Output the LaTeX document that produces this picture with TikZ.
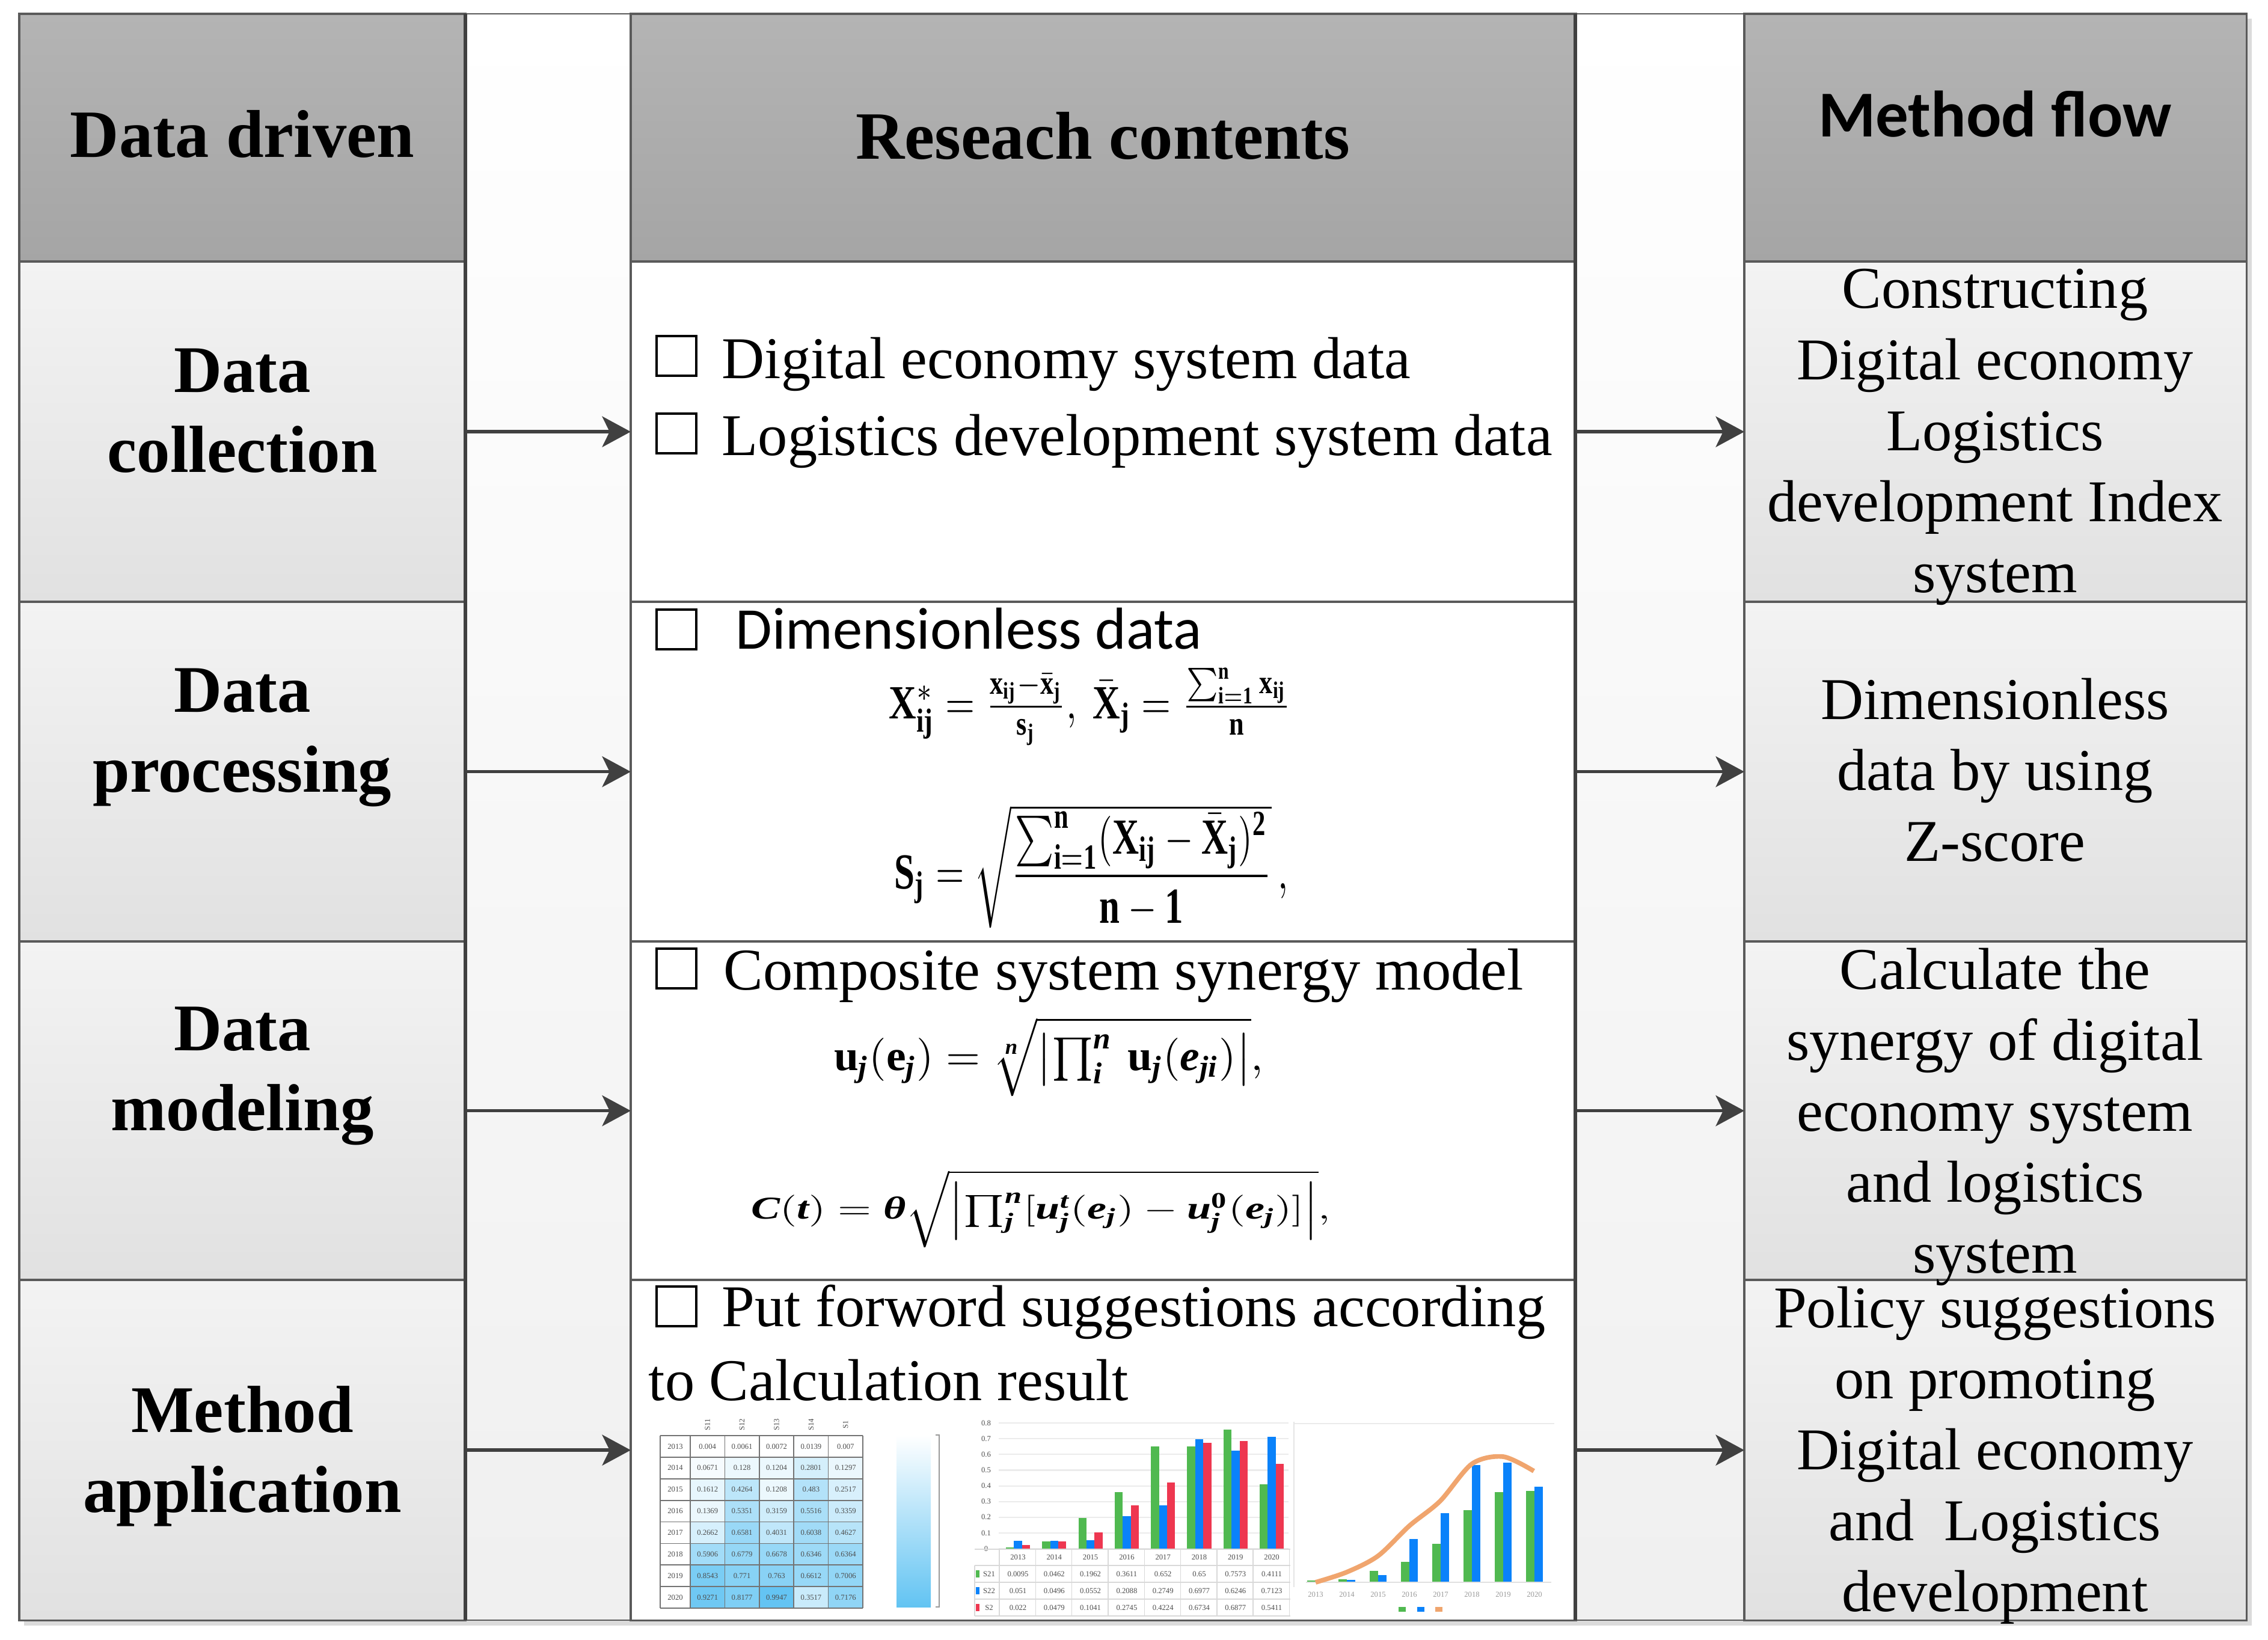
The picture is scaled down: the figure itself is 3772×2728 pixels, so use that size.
\documentclass[tikz,border=0pt]{standalone}
\usepackage{amsmath}
\usepackage{fontspec}
\setmainfont{Liberation Serif}
\newfontfamily\calib{Carlito}
\usepackage{graphicx}
\usetikzlibrary{arrows.meta}
\newcommand\bit[1]{\text{\bfseries\itshape #1}}
\definecolor{hdrtop}{HTML}{B4B4B4}
\definecolor{hdrbot}{HTML}{A5A5A5}
\definecolor{celltop}{HTML}{F3F3F3}
\definecolor{cellbot}{HTML}{E1E1E1}
\definecolor{edge}{HTML}{5A5A5A}
\definecolor{hb}{RGB}{70,185,240}
\definecolor{bgreen}{RGB}{80,185,80}
\definecolor{bblue}{RGB}{10,130,250}
\definecolor{bred}{RGB}{238,55,80}
\definecolor{borange}{RGB}{240,165,110}
\begin{document}
\begin{tikzpicture}[x=0.01cm,y=-0.01cm,
 hdr/.style={draw=edge,line width=0.9pt,top color=hdrtop,bottom color=hdrbot,inner sep=0pt,outer sep=0pt,anchor=north west},
 cellg/.style={draw=edge,line width=0.9pt,top color=celltop,bottom color=cellbot,inner sep=0pt,outer sep=0pt,anchor=north west},
 cellw/.style={draw=edge,line width=0.9pt,fill=white,inner sep=0pt,outer sep=0pt,anchor=north west},
 lbl/.style={font=\fontsize{31.5}{37.8}\selectfont\bfseries,align=center,inner sep=0pt,anchor=north},
 rtxt/.style={font=\fontsize{28}{33.6}\selectfont,align=center,inner sep=0pt,anchor=north},
 mtxt/.style={font=\fontsize{28}{33.6}\selectfont,inner sep=0pt,anchor=base west},
 cbox/.style={draw=black,line width=1pt,minimum size=0.66cm,inner sep=0pt,fill=white},
 arr/.style={-{Stealth[length=13.5pt,width=14.5pt,inset=3.5pt]},line width=1.6pt,draw=black!75},
 chtxt/.style={font=\fontsize{3.6}{4}\selectfont,text=black!70,inner sep=0pt},
 fml/.style={inner sep=0pt}]
\useasboundingbox (0,0) rectangle (3772,2728);
\fill[white] (0,0) rectangle (3772,2728);
% shadow
\fill[black!14] (40,31) rectangle (3745,2704);
% gap columns
\shade[top color=white,bottom color=black!6,draw=edge,line width=0.6pt] (774,23) rectangle (1049,2695);
\shade[top color=white,bottom color=black!6,draw=edge,line width=0.6pt] (2620,23) rectangle (2901,2695);
% headers
\node[hdr,minimum width=7.42cm,minimum height=4.12cm] (H1) at (32,23) {};
\node[hdr,minimum width=15.71cm,minimum height=4.12cm] (H2) at (1049,23) {};
\node[hdr,minimum width=8.35cm,minimum height=4.12cm] (H3) at (2901,23) {};
% left column
\node[cellg,minimum width=7.42cm,minimum height=5.66cm] (L1) at (32,435) {};
\node[cellg,minimum width=7.42cm,minimum height=5.65cm] (L2) at (32,1001) {};
\node[cellg,minimum width=7.42cm,minimum height=5.63cm] (L3) at (32,1566) {};
\node[cellg,minimum width=7.42cm,minimum height=5.66cm] (L4) at (32,2129) {};
% middle column
\node[cellw,minimum width=15.71cm,minimum height=5.66cm] (M1) at (1049,435) {};
\node[cellw,minimum width=15.71cm,minimum height=5.65cm] (M2) at (1049,1001) {};
\node[cellw,minimum width=15.71cm,minimum height=5.63cm] (M3) at (1049,1566) {};
\node[cellw,minimum width=15.71cm,minimum height=5.66cm] (M4) at (1049,2129) {};
% right column
\node[cellg,minimum width=8.35cm,minimum height=5.66cm] (R1) at (2901,435) {};
\node[cellg,minimum width=8.35cm,minimum height=5.65cm] (R2) at (2901,1001) {};
\node[cellg,minimum width=8.35cm,minimum height=5.63cm] (R3) at (2901,1566) {};
\node[cellg,minimum width=8.35cm,minimum height=5.66cm] (R4) at (2901,2129) {};
% thick dividers
\draw[black!75,line width=1.5pt] (774,23) -- (774,2695);
\draw[black!75,line width=1.5pt] (2620,23) -- (2620,2695);
% arrows
\foreach \i in {1,2,3,4}{
 \draw[arr] (L\i.east) -- (M\i.west);
 \draw[arr] (M\i.east) -- (R\i.west);
}
% header texts
\node[font=\fontsize{32}{38}\selectfont\bfseries,anchor=base,inner sep=0pt] (tH1) at (403,262) {Data driven};
\node[font=\fontsize{32}{38}\selectfont\bfseries,anchor=base,inner sep=0pt] (tH2) at (1834,265) {Reseach contents};
\node[font=\calib\fontsize{31}{37}\selectfont\bfseries,anchor=base,inner sep=0pt] (tH3) at (3318,228) {Method flow};
% left labels
\node[lbl] (tL1) at (403,579) {Data\\collection};
\node[lbl] (tL2) at (403,1111) {Data\\processing};
\node[lbl] (tL3) at (403,1674) {Data\\modeling};
\node[lbl] (tL4) at (403,2305) {Method\\application};
% right labels
\node[rtxt] (tR1) at (3318,447) {Constructing\\Digital economy\\Logistics\\development Index\\system};
\node[rtxt] (tR2) at (3318,1127) {Dimensionless\\data by using\\Z-score};
\node[rtxt] (tR3) at (3318,1576) {Calculate the\\synergy of digital\\economy system\\and logistics\\system};
\node[rtxt] (tR4) at (3318,2139) {Policy suggestions\\on promoting\\Digital economy\\and\ \ Logistics\\development};
% middle texts
\node[cbox] (cb1) at (1125,592) {};
\node[mtxt] (m1a) at (1200,630) {Digital economy system data};
\node[cbox] (cb2) at (1125,721) {};
\node[mtxt] (m1b) at (1200,758) {Logistics development system data};
\node[cbox] (cb3) at (1125,1047) {};
\node[mtxt,font=\calib\fontsize{28}{33.6}\selectfont] (m2) at (1223,1080) {Dimensionless data};
\node[cbox] (cb4) at (1125,1611) {};
\node[mtxt] (m3) at (1203,1646) {Composite system synergy model};
\node[cbox] (cb5) at (1125,2173) {};
\node[mtxt] (m4a) at (1200,2206) {Put forword suggestions according};
\node[mtxt] (m4b) at (1078,2329) {to Calculation result};
% formulas
\node[fml] (f1) at (1813,1175) {\resizebox*{190pt}{36.7pt}{$\mathbf{X}^{*}_{\mathbf{ij}}=\frac{\mathbf{x}_{\mathbf{ij}}-\bar{\mathbf{x}}_{\mathbf{j}}}{\mathbf{s}_{\mathbf{j}}},\ \bar{\mathbf{X}}_{\mathbf{j}}=\frac{\sum_{\mathbf{i=1}}^{\mathbf{n}}\mathbf{x}_{\mathbf{ij}}}{\mathbf{n}}$}};
\node[fml] (f2) at (1815,1441) {\resizebox*{186pt}{58.3pt}{$\mathbf{S}_{\mathbf{j}}=\sqrt{\dfrac{\sum\nolimits_{\mathbf{i=1}}^{\mathbf{n}}(\mathbf{X}_{\mathbf{ij}}-\bar{\mathbf{X}}_{\mathbf{j}})^{\mathbf{2}}}{\mathbf{n}-\mathbf{1}}}\,,$}};
\node[fml] (f3) at (1744,1758) {\resizebox*{203pt}{37.5pt}{$\mathbf{u}_{\bit{j}}(\mathbf{e}_{\bit{j}})=\sqrt[\bit{n}]{\left|\prod\nolimits_{\bit{i}}^{\bit{n}}\,\mathbf{u}_{\bit{j}}(\bit{e}_{\bit{ji}})\right|},$}};
\node[fml] (f4) at (1731,2011) {\resizebox*{274pt}{36.7pt}{$\bit{C}(\bit{t})=\bit{θ}\sqrt{\left|\prod\nolimits_{\bit{j}}^{\bit{n}}[\bit{u}_{\bit{j}}^{\bit{t}}(\bit{e}_{\bit{j}})-\bit{u}_{\bit{j}}^{\mathbf{0}}(\bit{e}_{\bit{j}})]\right|},$}};
% ---- heatmap ----
\foreach \yr/\vals [count=\r from 0] in {2013/{0.004,0.0061,0.0072,0.0139,0.007},2014/{0.0671,0.128,0.1204,0.2801,0.1297},2015/{0.1612,0.4264,0.1208,0.483,0.2517},2016/{0.1369,0.5351,0.3159,0.5516,0.3359},2017/{0.2662,0.6581,0.4031,0.6038,0.4627},2018/{0.5906,0.6779,0.6678,0.6346,0.6364},2019/{0.8543,0.771,0.763,0.6612,0.7006},2020/{0.9271,0.8177,0.9947,0.3517,0.7176}}{
 \node[chtxt] (hy\r) at (1123,{2405.9+35.875*\r}) {\yr};
 \foreach \v [count=\c from 0] in \vals {
  \pgfmathtruncatemacro\pc{min(90,\v*85)}
  \fill[hb!\pc] ({1148+57.4*\c},{2388+35.875*\r}) rectangle ({1205.4+57.4*\c},{2423.875+35.875*\r});
  \node[chtxt] (hv\r-\c) at ({1176.7+57.4*\c},{2405.9+35.875*\r}) {\v};
 }
}
\foreach \i in {0,...,8} \draw[black!55,line width=0.5pt] (1098,{2388+35.875*\i}) -- (1435,{2388+35.875*\i});
\foreach \xx in {1098,1148,1205.4,1262.8,1320.2,1377.6,1435} \draw[black!55,line width=0.5pt] (\xx,2388) -- (\xx,2675);
\foreach \t [count=\c from 0] in {S11,S12,S13,S14,S1} \node[chtxt,rotate=90] (hh\c) at ({1176.7+57.4*\c},2370) {\t};
% colour bar
\shade[top color=white,bottom color=hb!85] (1491,2387) rectangle (1548,2673);
\draw[black!40,line width=0.4pt] (1556,2387) -- (1562,2387) -- (1562,2673) -- (1556,2673);
% ---- bar chart 1 ----
\foreach \v in {0,...,8}{
 \draw[black!8,line width=0.6pt] (1661,{2576-26.1*\v}) -- (2143,{2576-26.1*\v});
 \node[chtxt] (ya\v) at (1640,{2576-26.1*\v}) {\ifnum\v=0 0\else 0.\v\fi};
}
\foreach \a/\b/\cv [count=\k from 0] in {0.0095/0.051/0.022,0.0462/0.0496/0.0479,0.1962/0.0552/0.1041,0.3611/0.2088/0.2745,0.652/0.2749/0.4224,0.65/0.6977/0.6734,0.7573/0.6246/0.6877,0.4111/0.7123/0.5411}{
 \pgfmathsetmacro\cx{1693+60.3*\k}
 \fill[bgreen] ({\cx-20.1},2576) rectangle ({\cx-6.7},{2576-261*\a});
 \fill[bblue] ({\cx-6.7},2576) rectangle ({\cx+6.7},{2576-261*\b});
 \fill[bred] ({\cx+6.7},2576) rectangle ({\cx+20.1},{2576-261*\cv});
 \pgfmathtruncatemacro\yy{2013+\k}
 \node[chtxt] (by\k) at (\cx,2590) {\yy};
 \node[chtxt] (ba\k) at (\cx,2618) {\a};
 \node[chtxt] (bb\k) at (\cx,2646) {\b};
 \node[chtxt] (bc\k) at (\cx,2674) {\cv};
}
\foreach \yy in {2577,2604,2632,2660,2688} \draw[black!15,line width=0.4pt] (1621,\yy) -- (2146,\yy);
\foreach \i in {0,...,8} \draw[black!15,line width=0.4pt] ({1662+60.3*\i},2577) -- ({1662+60.3*\i},2688);
\draw[black!15,line width=0.4pt] (1621,2604) -- (1621,2688);
\fill[bgreen] (1623,2612) rectangle (1629,2624);
\fill[bblue] (1623,2640) rectangle (1629,2652);
\fill[bred] (1623,2668) rectangle (1629,2680);
\node[chtxt] (lg1) at (1645,2618) {S21};
\node[chtxt] (lg2) at (1645,2646) {S22};
\node[chtxt] (lg3) at (1645,2674) {S2};
% ---- bar chart 2 ----
\draw[black!8,line width=0.8pt] (2152,2368) -- (2585,2368);
\draw[black!10,line width=0.5pt] (2152,2365) -- (2152,2640);
\draw[black!12,line width=0.5pt] (2172,2632) -- (2580,2632);
\foreach \g/\b [count=\k from 0] in {2629/2629,2627/2628,2613/2620,2598/2560,2568/2517,2512/2437,2482/2433,2480/2473}{
 \pgfmathsetmacro\cx{2188+52*\k}
 \fill[bgreen] ({\cx-14},2631) rectangle (\cx,\g);
 \fill[bblue] (\cx,2631) rectangle ({\cx+14},\b);
 \pgfmathtruncatemacro\yy{2013+\k}
 \node[chtxt,text=black!40] (cy\k) at (\cx,2652) {\yy};
}
\draw[borange,line width=2.2pt] plot[smooth,tension=0.5] coordinates {(2188,2632) (2240,2615) (2292,2588) (2344,2538) (2395,2497) (2448,2435) (2500,2423) (2551,2447)};
\fill[bgreen] (2326,2673) rectangle (2338,2681);
\fill[bblue] (2357,2673) rectangle (2369,2681);
\fill[borange] (2387,2673) rectangle (2399,2681);
\end{tikzpicture}
\end{document}
